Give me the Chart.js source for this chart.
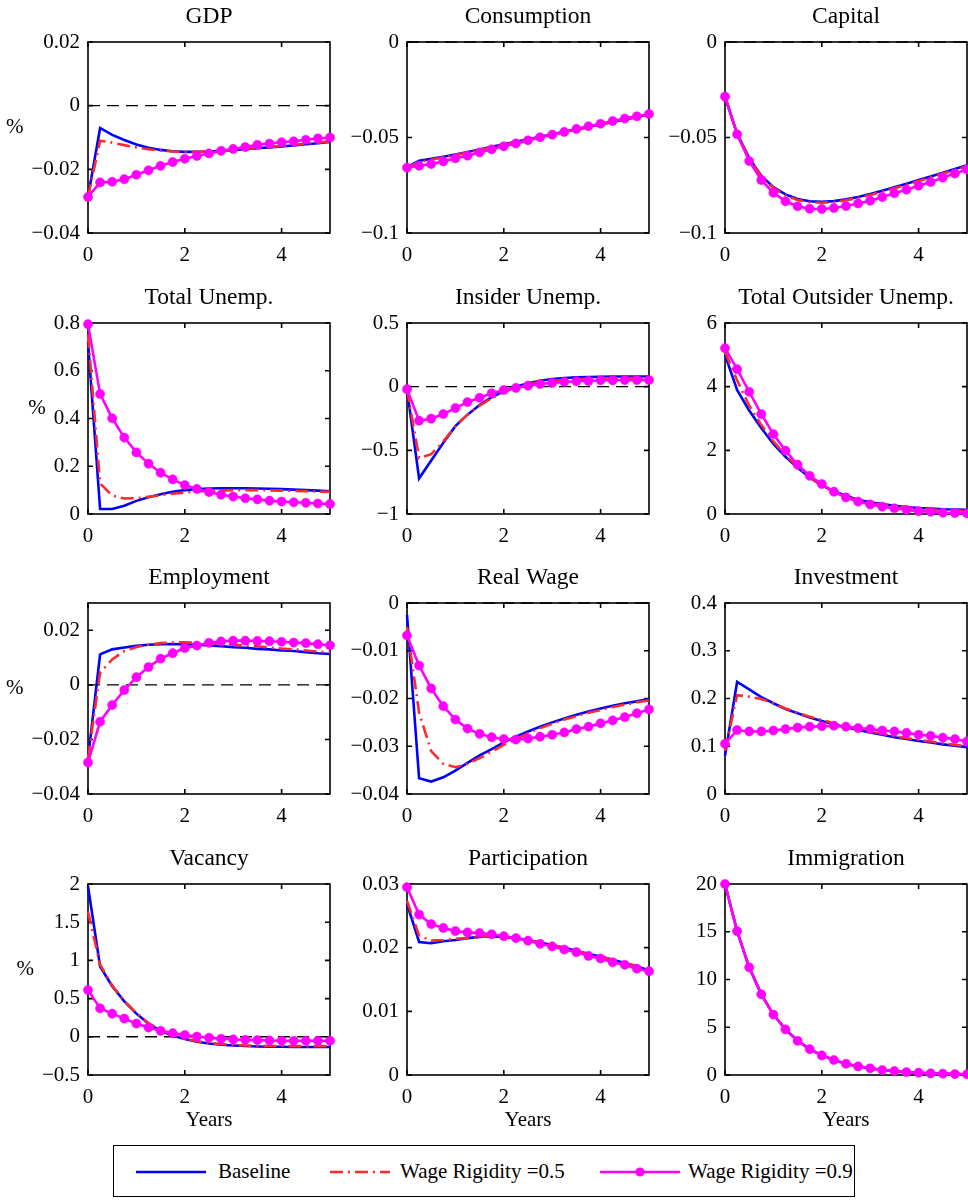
<!DOCTYPE html>
<html>
<head>
<meta charset="utf-8">
<script src="https://cdn.jsdelivr.net/npm/chart.js@4.4.1/dist/chart.umd.min.js"></script>
<style>
  html, body { margin:0; padding:0; background:#fff; overflow:hidden; width:968px; height:1200px; }
  canvas.panel { position:absolute; }
  #legend { position:absolute; left:113px; top:1145px; width:742px; height:52px; border:1px solid #000;
            box-sizing:border-box; font-family:"Liberation Serif","Times New Roman",serif; font-size:21px; color:#000; }
  #legend span { position:absolute; top:13px; line-height:24px; white-space:nowrap; }
  #legend svg { position:absolute; top:20px; }
</style>
</head>
<body>
<div id="legend">
  <svg style="left:22px" width="70" height="12"><line x1="0" y1="6" x2="70" y2="6" stroke="#0000ff" stroke-width="2.6"/></svg>
  <span style="left:104px">Baseline</span>
  <svg style="left:216px" width="60" height="12"><line x1="0" y1="6" x2="60" y2="6" stroke="#ff2a2a" stroke-width="2.6" stroke-dasharray="13 5 2 5"/></svg>
  <span style="left:286px">Wage Rigidity =0.5</span>
  <svg style="left:486px" width="80" height="12"><line x1="0" y1="6" x2="80" y2="6" stroke="#ff00ff" stroke-width="2.6"/><circle cx="40" cy="6" r="4.6" fill="#ff00ff"/></svg>
  <span style="left:574px">Wage Rigidity =0.9</span>
</div>
<script>
// quarters, 0..5 years
const years = [0,0.25,0.5,0.75,1,1.25,1.5,1.75,2,2.25,2.5,2.75,3,3.25,3.5,3.75,4,4.25,4.5,4.75,5];
const xTicks = [0, 2, 4];

const gdpBase = [-0.0287,-0.0070,-0.0092,-0.0108,-0.0122,-0.0132,-0.0139,-0.0143,-0.0145,-0.0145,-0.0144,-0.0142,-0.0140,-0.0137,-0.0134,-0.0131,-0.0128,-0.0125,-0.0121,-0.0118,-0.0114];
const gdpW5   = [-0.0287,-0.0110,-0.0116,-0.0124,-0.0131,-0.0137,-0.0141,-0.0144,-0.0145,-0.0145,-0.0144,-0.0142,-0.0139,-0.0136,-0.0133,-0.0130,-0.0127,-0.0123,-0.0120,-0.0116,-0.0112];
const gdpW9   = [-0.0287,-0.0241,-0.0239,-0.0231,-0.0217,-0.0203,-0.0189,-0.0177,-0.0167,-0.0158,-0.0150,-0.0142,-0.0136,-0.0130,-0.0123,-0.0119,-0.0115,-0.0112,-0.0107,-0.0103,-0.0100];
const gdpTicks = [-0.04, -0.02, 0, 0.02];

const consBase = [-0.0655,-0.0622,-0.0612,-0.0601,-0.0589,-0.0576,-0.0563,-0.0549,-0.0536,-0.0523,-0.0509,-0.0496,-0.0483,-0.0470,-0.0457,-0.0444,-0.0431,-0.0418,-0.0405,-0.0393,-0.0378];
const consW5   = [-0.0657,-0.0628,-0.0616,-0.0604,-0.0592,-0.0579,-0.0566,-0.0552,-0.0539,-0.0525,-0.0511,-0.0498,-0.0485,-0.0472,-0.0459,-0.0446,-0.0433,-0.0420,-0.0407,-0.0394,-0.0379];
const consW9   = [-0.0658,-0.0648,-0.0639,-0.0625,-0.0609,-0.0595,-0.0578,-0.0562,-0.0546,-0.0531,-0.0515,-0.0499,-0.0485,-0.0471,-0.0455,-0.0441,-0.0428,-0.0414,-0.0401,-0.0389,-0.0377];
const consTicks = [-0.1, -0.05, 0];

const capBase = [-0.0286,-0.0480,-0.0608,-0.0700,-0.0760,-0.0798,-0.0822,-0.0834,-0.0837,-0.0833,-0.0824,-0.0811,-0.0796,-0.0779,-0.0761,-0.0742,-0.0723,-0.0704,-0.0684,-0.0665,-0.0645];
const capW5   = [-0.0286,-0.0481,-0.0610,-0.0703,-0.0764,-0.0803,-0.0827,-0.0839,-0.0842,-0.0838,-0.0829,-0.0816,-0.0801,-0.0784,-0.0766,-0.0747,-0.0728,-0.0709,-0.0689,-0.0670,-0.0650];
const capW9   = [-0.0286,-0.0483,-0.0623,-0.0723,-0.0789,-0.0834,-0.0860,-0.0873,-0.0874,-0.0869,-0.0859,-0.0845,-0.0831,-0.0812,-0.0792,-0.0773,-0.0752,-0.0733,-0.0710,-0.0689,-0.0667];
const capTicks = [-0.1, -0.05, 0];

const tuBase = [0.72,0.021,0.021,0.035,0.055,0.070,0.083,0.093,0.100,0.104,0.107,0.108,0.108,0.108,0.107,0.106,0.104,0.102,0.100,0.098,0.095];
const tuW5   = [0.75,0.128,0.077,0.065,0.066,0.072,0.079,0.085,0.090,0.094,0.097,0.099,0.100,0.100,0.100,0.099,0.098,0.097,0.095,0.094,0.092];
const tuW9   = [0.795,0.503,0.401,0.320,0.258,0.211,0.173,0.145,0.121,0.105,0.092,0.081,0.073,0.066,0.061,0.056,0.052,0.049,0.047,0.044,0.042];
const tuTicks = [0, 0.2, 0.4, 0.6, 0.8];

const iuBase = [-0.02,-0.72,-0.58,-0.44,-0.31,-0.22,-0.144,-0.083,-0.034,0.0,0.026,0.047,0.060,0.068,0.073,0.075,0.078,0.080,0.080,0.080,0.080];
const iuW5   = [-0.02,-0.56,-0.53,-0.43,-0.31,-0.22,-0.15,-0.09,-0.04,-0.005,0.02,0.035,0.045,0.053,0.058,0.062,0.065,0.066,0.067,0.068,0.068];
const iuW9   = [-0.02,-0.267,-0.251,-0.215,-0.168,-0.121,-0.087,-0.052,-0.026,-0.010,0.008,0.021,0.030,0.037,0.042,0.045,0.050,0.050,0.052,0.052,0.052];
const iuTicks = [-1, -0.5, 0, 0.5];

const ouBase = [5.0,3.9,3.25,2.7,2.2,1.8,1.45,1.15,0.9,0.72,0.57,0.45,0.37,0.31,0.26,0.22,0.19,0.17,0.15,0.14,0.13];
const ouW5   = [5.1,4.2,3.4,2.8,2.28,1.85,1.48,1.17,0.88,0.70,0.55,0.43,0.35,0.29,0.24,0.20,0.17,0.14,0.12,0.11,0.10];
const ouW9   = [5.21,4.55,3.84,3.14,2.51,1.99,1.55,1.20,0.94,0.70,0.52,0.39,0.30,0.23,0.18,0.13,0.09,0.07,0.04,0.03,0.02];
const ouTicks = [0, 2, 4, 6];

const empBase = [-0.0270,0.0112,0.0130,0.0137,0.0143,0.0147,0.0149,0.0150,0.0149,0.0147,0.0144,0.0142,0.0138,0.0136,0.0132,0.0130,0.0126,0.0124,0.0120,0.0116,0.0113];
const empW5   = [-0.0270,0.0045,0.0093,0.0124,0.0139,0.0147,0.0153,0.0155,0.0156,0.0155,0.0153,0.0150,0.0147,0.0144,0.0141,0.0137,0.0133,0.0130,0.0126,0.0122,0.0119];
const empW9   = [-0.0285,-0.0135,-0.0074,-0.0019,0.0028,0.0065,0.0096,0.0116,0.0135,0.0144,0.0154,0.0159,0.0162,0.0162,0.0161,0.0160,0.0158,0.0155,0.0153,0.0149,0.0145];
const empTicks = [-0.04, -0.02, 0, 0.02];

const rwBase = [-0.0025,-0.0367,-0.0374,-0.0365,-0.0351,-0.0335,-0.0319,-0.0306,-0.0292,-0.0280,-0.0269,-0.0259,-0.0250,-0.0242,-0.0234,-0.0227,-0.0221,-0.0215,-0.0210,-0.0206,-0.0201];
const rwW5   = [-0.0050,-0.0230,-0.0310,-0.0337,-0.0344,-0.0337,-0.0325,-0.0311,-0.0297,-0.0285,-0.0273,-0.0262,-0.0253,-0.0244,-0.0237,-0.0230,-0.0224,-0.0218,-0.0213,-0.0208,-0.0204];
const rwW9   = [-0.0068,-0.0131,-0.0179,-0.0216,-0.0244,-0.0263,-0.0274,-0.0281,-0.0285,-0.0286,-0.0284,-0.0280,-0.0276,-0.0271,-0.0264,-0.0259,-0.0252,-0.0246,-0.0239,-0.0231,-0.0223];
const rwTicks = [-0.04, -0.03, -0.02, -0.01, 0];

const invBase = [0.080,0.235,0.219,0.203,0.190,0.178,0.169,0.160,0.153,0.146,0.140,0.134,0.129,0.124,0.119,0.115,0.111,0.108,0.104,0.101,0.098];
const invW5   = [0.090,0.207,0.204,0.199,0.190,0.179,0.170,0.162,0.155,0.148,0.142,0.136,0.131,0.126,0.121,0.117,0.113,0.110,0.106,0.103,0.100];
const invW9   = [0.105,0.134,0.131,0.131,0.133,0.136,0.139,0.141,0.142,0.143,0.141,0.138,0.136,0.133,0.131,0.128,0.124,0.122,0.118,0.115,0.110];
const invTicks = [0, 0.1, 0.2, 0.3, 0.4];

const vacBase = [1.97,0.92,0.663,0.464,0.303,0.173,0.078,0.013,-0.030,-0.065,-0.087,-0.104,-0.113,-0.121,-0.126,-0.130,-0.130,-0.134,-0.134,-0.134,-0.134];
const vacW5   = [1.64,0.945,0.67,0.47,0.31,0.18,0.085,0.02,-0.025,-0.058,-0.080,-0.096,-0.106,-0.113,-0.117,-0.120,-0.121,-0.122,-0.122,-0.122,-0.122];
const vacW9   = [0.611,0.373,0.303,0.238,0.173,0.121,0.078,0.048,0.022,0.004,-0.013,-0.026,-0.035,-0.039,-0.043,-0.048,-0.052,-0.052,-0.052,-0.052,-0.052];
const vacTicks = [-0.5, 0, 0.5, 1, 1.5, 2];

const partBase = [0.0269,0.0209,0.0207,0.0210,0.0212,0.0215,0.0217,0.0218,0.0217,0.0215,0.0212,0.0208,0.0204,0.0200,0.0195,0.0190,0.0186,0.0181,0.0176,0.0171,0.0164];
const partW5   = [0.0274,0.0219,0.0211,0.0212,0.0214,0.0215,0.0217,0.0218,0.0217,0.0215,0.0212,0.0208,0.0204,0.0200,0.0195,0.0190,0.0186,0.0181,0.0176,0.0171,0.0164];
const partW9   = [0.0295,0.0252,0.0237,0.0231,0.0226,0.0224,0.0223,0.0221,0.0218,0.0215,0.0211,0.0206,0.0202,0.0197,0.0193,0.0187,0.0183,0.0177,0.0173,0.0167,0.0163];
const partTicks = [0, 0.01, 0.02, 0.03];

// all three cases coincide for immigration
const immBase = [20,15.06,11.27,8.45,6.33,4.77,3.58,2.71,2.05,1.57,1.18,0.90,0.70,0.52,0.42,0.31,0.24,0.17,0.14,0.10,0.08];
const immW5 = immBase;
const immW9 = immBase;
const immTicks = [0, 5, 10, 15, 20];

const panels = [
  { title:'GDP',                   base:gdpBase,  w5:gdpW5,  w9:gdpW9,  ticks:gdpTicks,  min:-0.04, max:0.02 },
  { title:'Consumption',           base:consBase, w5:consW5, w9:consW9, ticks:consTicks, min:-0.1,  max:0 },
  { title:'Capital',               base:capBase,  w5:capW5,  w9:capW9,  ticks:capTicks,  min:-0.1,  max:0 },
  { title:'Total Unemp.',          base:tuBase,   w5:tuW5,   w9:tuW9,   ticks:tuTicks,   min:0,     max:0.8 },
  { title:'Insider Unemp.',        base:iuBase,   w5:iuW5,   w9:iuW9,   ticks:iuTicks,   min:-1,    max:0.5 },
  { title:'Total Outsider Unemp.', base:ouBase,   w5:ouW5,   w9:ouW9,   ticks:ouTicks,   min:0,     max:6 },
  { title:'Employment',            base:empBase,  w5:empW5,  w9:empW9,  ticks:empTicks,  min:-0.04, max:0.03 },
  { title:'Real Wage',             base:rwBase,   w5:rwW5,   w9:rwW9,   ticks:rwTicks,   min:-0.04, max:0 },
  { title:'Investment',            base:invBase,  w5:invW5,  w9:invW9,  ticks:invTicks,  min:0,     max:0.4 },
  { title:'Vacancy',               base:vacBase,  w5:vacW5,  w9:vacW9,  ticks:vacTicks,  min:-0.5,  max:2 },
  { title:'Participation',         base:partBase, w5:partW5, w9:partW9, ticks:partTicks, min:0,     max:0.03 },
  { title:'Immigration',           base:immBase,  w5:immW5,  w9:immW9,  ticks:immTicks,  min:0,     max:20 },
];

// layout
const colLeft = [88, 407, 725];
const rowTop  = [42, 323, 603, 884];
const plotW = 242, plotH = 191;
const yAxisW = 86, titleH = 40, rightPad = 6;
const FONT = '"Liberation Serif", "Times New Roman", serif';

const fmt = v => (v < 0 ? '\u2212' : '') + String(Math.abs(v));

// MATLAB-like box, inward ticks, zero reference line, title, % and Years labels
const matlabAxes = {
  id: 'matlabAxes',
  beforeDatasetsDraw(chart, args, opts) {
    const { ctx, chartArea: a, scales: { x, y } } = chart;
    ctx.save();
    if (y.min < 0 && y.max >= 0) {
      const py = y.getPixelForValue(0);
      ctx.strokeStyle = '#000'; ctx.lineWidth = 1.4; ctx.setLineDash([12, 7]);
      ctx.beginPath(); ctx.moveTo(a.left, py); ctx.lineTo(a.right, py); ctx.stroke();
      ctx.setLineDash([]);
    }
    ctx.strokeStyle = '#000'; ctx.lineWidth = 1.6;
    ctx.strokeRect(a.left, a.top, a.right - a.left, a.bottom - a.top);
    ctx.beginPath();
    x.ticks.forEach(t => {
      const px = x.getPixelForValue(t.value);
      ctx.moveTo(px, a.bottom); ctx.lineTo(px, a.bottom - 5);
      ctx.moveTo(px, a.top);    ctx.lineTo(px, a.top + 5);
    });
    y.ticks.forEach(t => {
      const py = y.getPixelForValue(t.value);
      ctx.moveTo(a.left, py);  ctx.lineTo(a.left + 5, py);
      ctx.moveTo(a.right, py); ctx.lineTo(a.right - 5, py);
    });
    ctx.stroke();

    ctx.fillStyle = '#000';
    ctx.textBaseline = 'middle';
    ctx.font = '23.5px ' + FONT;
    ctx.textAlign = 'center';
    ctx.fillText(opts.title, (a.left + a.right) / 2, a.top - 24.8);

    ctx.font = '21px ' + FONT;
    if (opts.yLabel) {
      const widest = Math.max(...y.ticks.map(t => ctx.measureText(fmt(t.value)).width));
      ctx.textAlign = 'right';
      ctx.fillText(opts.yLabel, a.left - 8 - widest - 8, (a.top + a.bottom) / 2 - 10);
    }
    if (opts.xLabel) {
      ctx.textAlign = 'center';
      ctx.fillText(opts.xLabel, (a.left + a.right) / 2, a.bottom + 45);
    }
    ctx.restore();
  }
};

panels.forEach((p, i) => {
  const row = Math.floor(i / 3), col = i % 3;
  const xAxisH = row === 3 ? 62 : 36;
  const cv = document.createElement('canvas');
  cv.className = 'panel';
  const w = yAxisW + plotW + rightPad, h = titleH + plotH + xAxisH;
  cv.width = w; cv.height = h;
  cv.style.width = w + 'px'; cv.style.height = h + 'px';
  cv.style.left = (colLeft[col] - yAxisW) + 'px';
  cv.style.top = (rowTop[row] - titleH) + 'px';
  document.body.appendChild(cv);

  const pts = arr => years.map((x, k) => ({ x, y: arr[k] }));

  new Chart(cv, {
    type: 'line',
    data: {
      datasets: [
        { label:'Baseline', data: pts(p.base), borderColor:'#0000ff', borderWidth:2.6,
          pointRadius:0, tension:0, clip:false, order:3 },
        { label:'Wage Rigidity =0.5', data: pts(p.w5), borderColor:'#ff2a2a', borderWidth:2.6,
          borderDash:[13, 5, 2, 5], pointRadius:0, tension:0, clip:false, order:2 },
        { label:'Wage Rigidity =0.9', data: pts(p.w9), borderColor:'#ff00ff', borderWidth:2.6,
          pointRadius:4.6, pointBackgroundColor:'#ff00ff', pointBorderColor:'#ff00ff', pointBorderWidth:0.5,
          tension:0, clip:false, order:1 },
      ]
    },
    options: {
      responsive: false,
      animation: false,
      events: [],
      layout: { padding: { left:0, right:rightPad, top:titleH, bottom:0 } },
      plugins: {
        legend: { display:false },
        tooltip: { enabled:false },
        title: { display:false },
        matlabAxes: { title:p.title, yLabel: col === 0 ? '%' : '', xLabel: row === 3 ? 'Years' : '' }
      },
      scales: {
        x: {
          type:'linear', min:0, max:5,
          afterBuildTicks: ax => { ax.ticks = xTicks.map(v => ({ value:v })); },
          afterFit: ax => { ax.height = xAxisH; },
          grid: { display:false, drawTicks:false },
          border: { display:false },
          ticks: { color:'#000', font:{ family:FONT, size:21 }, padding:10, maxRotation:0, autoSkip:false,
                   callback: v => fmt(v) }
        },
        y: {
          type:'linear', min:p.min, max:p.max,
          afterBuildTicks: ax => { ax.ticks = p.ticks.map(v => ({ value:v })); },
          afterFit: ax => { ax.width = yAxisW; },
          grid: { display:false, drawTicks:false },
          border: { display:false },
          ticks: { color:'#000', font:{ family:FONT, size:21 }, padding:8, autoSkip:false,
                   callback: v => fmt(v) }
        }
      }
    },
    plugins: [matlabAxes]
  });
});
</script>
</body>
</html>
